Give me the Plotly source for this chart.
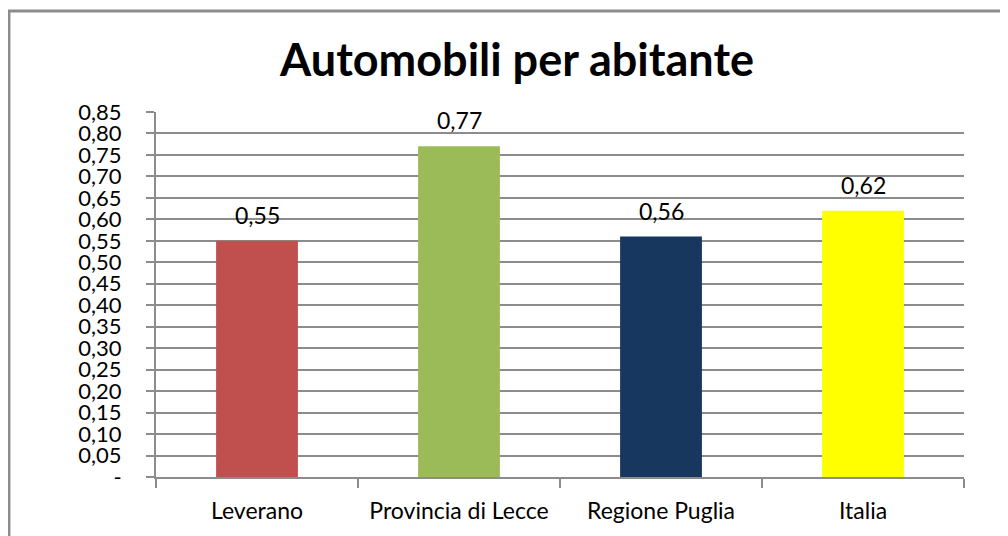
import plotly.graph_objects as go

categories = ["Leverano", "Provincia di Lecce", "Regione Puglia", "Italia"]
values = [0.55, 0.77, 0.56, 0.62]
colors = ["#C0504D", "#9BBB59", "#17375E", "#FFFF00"]
ytick_vals = [0, 0.05, 0.10, 0.15, 0.20, 0.25, 0.30, 0.35, 0.40, 0.45,
              0.50, 0.55, 0.60, 0.65, 0.70, 0.75, 0.80, 0.85]
ytick_text = ["-"] + [f"{v:.2f}".replace(".", ",") for v in ytick_vals[1:]]

font = "Lato, Calibri, Carlito, sans-serif"
grey = "#8c8c8c"

fig = go.Figure()
fig.add_trace(go.Bar(
    x=categories, y=values,
    marker=dict(color=colors, line=dict(width=0)),
    hoverinfo="x+y",
))

# value labels above the bars
for c, v in zip(categories, values):
    fig.add_annotation(x=c, y=v, text=f"{v:.2f}".replace(".", ","),
                       showarrow=False, yanchor="bottom", yshift=10,
                       font=dict(size=23, color="black", family=font))

# page body has an 8px margin, so the figure sits 8px right/down
fig.update_layout(
    width=1008, height=536,
    margin=dict(l=148, r=52, t=104, b=67),
    paper_bgcolor="white", plot_bgcolor="white",
    font=dict(family=font, color="black"),
    title=dict(text="<b>Automobili per abitante</b>", x=0.505, xanchor="center",
               y=0.903, yanchor="middle", font=dict(size=45, family=font)),
    bargap=0.595,
    showlegend=False,
    xaxis=dict(showline=True, linecolor=grey, linewidth=2,
               ticks="outside", tickson="boundaries", ticklen=9,
               tickcolor=grey, tickwidth=2,
               tickfont=dict(size=23), ticklabelstandoff=12),
    yaxis=dict(range=[0, 0.85], tickvals=ytick_vals, ticktext=ytick_text,
               showline=True, linecolor=grey, linewidth=2,
               showgrid=True, gridcolor=grey, gridwidth=2,
               ticks="outside", ticklen=8, tickcolor=grey, tickwidth=2,
               tickfont=dict(size=22), ticklabelstandoff=20, zeroline=False),
    shapes=[dict(type="rect", xref="paper", yref="paper",
                 x0=-0.182, x1=1.07, y0=-0.2, y1=1.2767,
                 line=dict(color=grey, width=3))],
)

fig.write_html("out.html")
